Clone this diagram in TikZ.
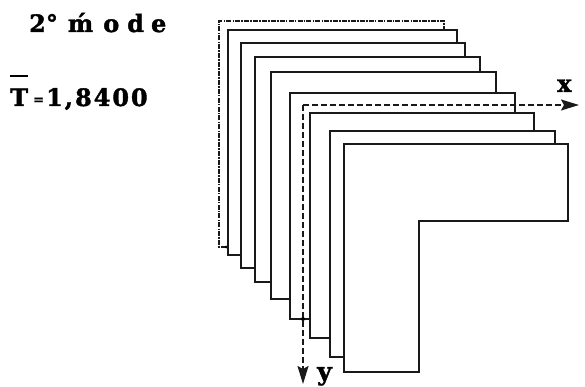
\documentclass[tikz,border=0pt]{standalone}
\usepackage{fontspec}
\setmainfont{DejaVu Serif}
\newfontfamily\heavy[FakeBold=1.6]{DejaVu Serif Bold}
\newfontfamily\heavyspaced[FakeBold=1.6,LetterSpace=8]{DejaVu Serif Bold}
\usetikzlibrary{arrows.meta}
\tikzset{
  plate/.style={line width=2.2pt,line join=miter,black!90},
  outerplate/.style={line width=1.5pt,dash pattern=on 5pt off 1.2pt on 1.5pt off 1.2pt,black!90},
  axisline/.style={line width=1.7pt,dash pattern=on 6pt off 3pt,black!90,-{Stealth[length=18pt,width=11pt,inset=3pt]}},
  lab/.style={inner sep=0pt,anchor=base west},
}
\begin{document}
\begin{tikzpicture}[x=1pt,y=-1pt]
\useasboundingbox (0,0) rectangle (585,387);
% outer dotted plate
\draw[outerplate] (226,247) -- (219,247) -- (219,21) -- (444,21) -- (444,30);
\fill (226,247) circle (1.5pt);
% stacked plates, back to front
\draw[plate] (241,255) -- (228,255) -- (228,30) -- (457,30) -- (457,43);
\draw[plate] (255,268) -- (241,268) -- (241,43) -- (465,43) -- (465,57);
\draw[plate] (271,282) -- (255,282) -- (255,57) -- (480,57) -- (480,72);
\draw[plate] (290,299) -- (271,299) -- (271,72) -- (496,72) -- (496,93);
\draw[plate] (310,319) -- (290,319) -- (290,93) -- (515,93) -- (515,112);
\draw[plate] (330,338) -- (310,338) -- (310,113) -- (534,113) -- (534,131);
\draw[plate] (344,357) -- (330,357) -- (330,131) -- (555,131) -- (555,144);
\draw[plate] (344,144) -- (568,144) -- (568,221) -- (419,221) -- (419,372) -- (344,372) -- cycle;
% axes
\coordinate (origin) at (303,105);
\coordinate (xtip) at (579,105);
\coordinate (ytip) at (303,384);
\draw[axisline] (origin) -- (xtip);
\draw[axisline] (origin) -- (ytip);
\fill (303,319) circle (2pt);
% labels
\node[lab] (title) at (29,32) {\heavy\fontsize{24}{24}\selectfont 2°\hspace{10pt}\'m\hspace{10pt}o\hspace{8pt}d\hspace{7pt}e};
\node[lab] (tbar) at (10,106) {\heavy\fontsize{24}{24}\selectfont T};
\draw[line width=1.5pt] (10,76) -- (28,76);
\node[lab] (eq) at (33,104) {\heavy\fontsize{13}{13}\selectfont =};
\node[lab] (val) at (46,106) {\heavyspaced\fontsize{24}{24}\selectfont 1,8400};
\node[lab] (xlab) at (557,92) {\heavy\fontsize{24}{24}\selectfont x};
\node[lab] (ylab) at (317,380) {\heavy\fontsize{25}{25}\selectfont y};
\end{tikzpicture}
\end{document}
